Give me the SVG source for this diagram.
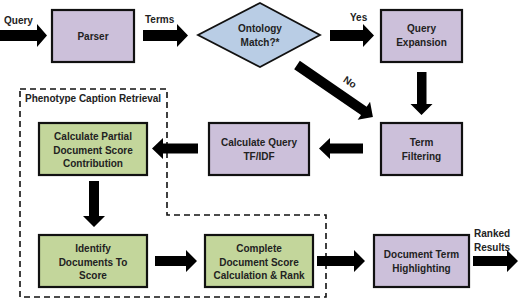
<svg xmlns="http://www.w3.org/2000/svg" width="520" height="301" viewBox="0 0 520 301">
<style>
text{font-family:"Liberation Sans",Arial,sans-serif;font-weight:bold;font-size:10px;fill:#222}
.c{text-anchor:middle}
.p{fill:#ccc0da;stroke:#111;stroke-width:2.2}
.g{fill:#c3d69b;stroke:#111;stroke-width:2.2}
.d{fill:#b9cde5;stroke:#111;stroke-width:1.8}
.a{fill:#000}
.dash{fill:none;stroke:#111;stroke-width:1.6;stroke-dasharray:6 4}
</style>
<rect width="520" height="301" fill="#fff"/>
<g id="region">
<path class="dash" d="M20 89 H167 V215 H326 V297 H20 Z"/>
<text x="25" y="101.5">Phenotype Caption Retrieval</text>
</g>
<g id="parser"><rect class="p" x="52" y="10" width="82" height="52"/><text class="c" x="93" y="40">Parser</text></g>
<g id="ontology"><polygon class="d" points="260,3 320,35 260,67 198,35"/><text class="c" x="260" y="32">Ontology</text><text class="c" x="260" y="46">Match?*</text></g>
<g id="expansion"><rect class="p" x="381" y="10" width="81" height="52"/><text class="c" x="421.5" y="32">Query</text><text class="c" x="421.5" y="46">Expansion</text></g>
<g id="filtering"><rect class="p" x="381" y="123" width="81" height="52"/><text class="c" x="421.5" y="146">Term</text><text class="c" x="421.5" y="160">Filtering</text></g>
<g id="tfidf"><rect class="p" x="209" y="123" width="100" height="52"/><text class="c" x="259" y="146">Calculate Query</text><text class="c" x="259" y="160">TF/IDF</text></g>
<g id="partial"><rect class="g" x="39" y="123" width="108" height="52"/><text class="c" x="93" y="140">Calculate Partial</text><text class="c" x="93" y="153.5">Document Score</text><text class="c" x="93" y="167">Contribution</text></g>
<g id="identify"><rect class="g" x="39" y="235" width="108" height="52"/><text class="c" x="93" y="252">Identify</text><text class="c" x="93" y="265.5">Documents To</text><text class="c" x="93" y="279">Score</text></g>
<g id="complete"><rect class="g" x="205" y="235" width="108" height="52"/><text class="c" x="259" y="252">Complete</text><text class="c" x="259" y="265.5">Document Score</text><text class="c" x="259" y="279">Calculation &amp; Rank</text></g>
<g id="highlight"><rect class="p" x="374" y="235" width="95" height="52"/><text class="c" x="421.5" y="258">Document Term</text><text class="c" x="421.5" y="271.5">Highlighting</text></g>
<g id="connectors">
<path class="a" d="M0 30 H37 V24 L47 35.5 L37 47 V41 H0 Z"/>
<text x="4" y="24">Query</text>
<path class="a" d="M143 30 H177 V24 L188 35.5 L177 47 V41 H143 Z"/>
<text x="145" y="23">Terms</text>
<path class="a" d="M330 30 H363 V24 L374 35.5 L363 47 V41 H330 Z"/>
<text x="350" y="21">Yes</text>
<path class="a" d="M417 72 H426.5 V104 H432.5 L421.5 115 L410.5 104 H417 Z"/>
<path class="a" transform="translate(297,65) rotate(34.4)" d="M0 -5 H81 V-11 L92 0 L81 11 V5 H0 Z"/>
<text class="c" transform="translate(348,85) rotate(34)">No</text>
<path class="a" d="M363 143.5 H330 V138 L319 148.5 L330 159 V153.5 H363 Z"/>
<path class="a" d="M198 143.5 H163 V138 L152 148.5 L163 159 V153.5 H198 Z"/>
<path class="a" d="M89 181 H99 V216 H105 L94 227 L83 216 H89 Z"/>
<path class="a" d="M155 256 H186 V250 L197 261 L186 272 V266 H155 Z"/>
<path class="a" d="M317 256 H354 V250 L365 261 L354 272 V266 H317 Z"/>
<path class="a" d="M473 256 H507 V250 L518 261 L507 272 V266 H473 Z"/>
<text x="474" y="237">Ranked</text>
<text x="474" y="251">Results</text>
</g>
</svg>
